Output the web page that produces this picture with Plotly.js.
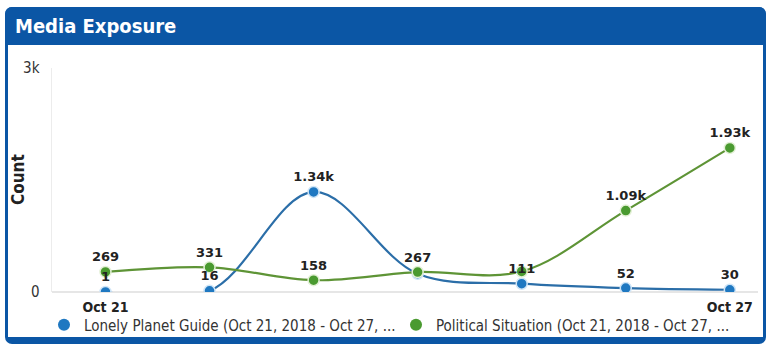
<!DOCTYPE html>
<html>
<head>
<meta charset="utf-8">
<script src="https://cdn.plot.ly/plotly-3.0.1.min.js"></script>
<style>
  html, body { margin: 0; padding: 0; background: #ffffff; }
  #wrap { position: relative; width: 770px; height: 355px; overflow: hidden; background: #ffffff; }
  #frame { position: absolute; left: 5px; top: 7px; width: 755px; height: 327px;
           border: 3px solid #0b56a5; border-bottom-width: 7px; border-radius: 7px; background: #ffffff; }
  #bar { position: absolute; left: 5px; top: 7px; width: 761px; height: 38px; background: #0b56a5;
         border-radius: 7px 7px 0 0; }
  #chart { position: absolute; left: 0; top: 0; width: 770px; height: 355px; }
</style>
</head>
<body>
<div id="wrap">
  <div id="frame"></div>
  <div id="bar"></div>
  <div id="chart"></div>
</div>
<script>
const dates = ['2018-10-21','2018-10-22','2018-10-23','2018-10-24','2018-10-25','2018-10-26','2018-10-27'];
const lonelyPlanet = [1, 16, 1340, 245, 111, 52, 30];
const political = [269, 331, 158, 267, 275, 1090, 1930];
const lonelyShowLabel = [true, true, true, false, true, true, true];
const politicalShowLabel = [true, true, true, true, false, true, true];
const xTickVals = ['2018-10-21', '2018-10-27'];
const xTickText = ['Oct 21', 'Oct 27'];
const yTickVals = [0, 3000];
const yTickText = ['0', '3k'];
const yTitle = 'Count';
const seriesNames = ['Lonely Planet Guide (Oct 21, 2018 - Oct 27, ...', 'Political Situation (Oct 21, 2018 - Oct 27, ...'];
const colors = { blueLine: '#2b6ea8', blueMarker: '#1f78c1', greenLine: '#5e9436', greenMarker: '#4a9a30' };

function fmt(v) { return v >= 1000 ? (v / 1000).toFixed(2) + 'k' : String(v); }

const narrow = '"DejaVu Sans Condensed", "DejaVu Sans", sans-serif';
const labelFont = { family: '"DejaVu Sans", sans-serif', size: 13, color: '#222222', weight: 'bold' };

function lineTrace(y, lineColor, markerColor, halo) {
  return {
    x: dates, y: y, type: 'scatter', mode: 'lines+markers', showlegend: false,
    line: { color: lineColor, width: 2.2, shape: 'spline', smoothing: 1 },
    marker: { color: markerColor, size: 11, line: { color: halo, width: 1.5 } },
    hoverinfo: 'x+y'
  };
}
function textTrace(y, show) {
  return {
    x: dates, y: y, type: 'scatter', mode: 'markers+text', showlegend: false,
    marker: { size: 10, opacity: 0 },
    text: y.map((v, i) => show[i] ? '<b>' + fmt(v) + '</b>' : ''),
    textposition: 'top center', textfont: labelFont, cliponaxis: false, hoverinfo: 'skip'
  };
}
function legendTrace(name, color, legendId) {
  return { x: [null], y: [null], type: 'scatter', mode: 'markers', name: name, legend: legendId,
           marker: { color: color, size: 11 }, showlegend: true };
}

const traces = [
  lineTrace(lonelyPlanet, colors.blueLine, colors.blueMarker, '#cfe5f7'),
  lineTrace(political, colors.greenLine, colors.greenMarker, '#e3f0d6'),
  textTrace(lonelyPlanet, lonelyShowLabel),
  textTrace(political, politicalShowLabel),
  legendTrace(seriesNames[0], colors.blueMarker, 'legend'),
  legendTrace(seriesNames[1], colors.greenMarker, 'legend2')
];

const legendFont = { family: narrow, size: 15, color: '#333333' };
function legendBox(xPx) {
  return {
    orientation: 'h', xref: 'container', yref: 'container',
    x: xPx / 770, xanchor: 'left', y: 1 - 325 / 355, yanchor: 'middle',
    font: legendFont, itemsizing: 'constant', itemwidth: 30, bgcolor: 'rgba(0,0,0,0)'
  };
}

const layout = {
  width: 770, height: 355,
  paper_bgcolor: 'rgba(0,0,0,0)', plot_bgcolor: 'rgba(0,0,0,0)',
  margin: { l: 52, r: 12, t: 68, b: 63 },
  title: {
    text: '<b>Media Exposure</b>',
    font: { family: narrow, size: 20, color: '#ffffff' },
    x: 15 / 770, xanchor: 'left', xref: 'container',
    y: 1 - 26 / 355, yanchor: 'middle', yref: 'container'
  },
  xaxis: {
    type: 'date',
    range: ['2018-10-20 11:40', '2018-10-27 06:30'],
    tickvals: xTickVals, ticktext: xTickText,
    tickfont: { family: narrow, size: 14, color: '#222222', weight: 'bold' },
    showgrid: false, zeroline: false, showline: false, ticks: '',
    ticklabelstandoff: 5, fixedrange: true
  },
  yaxis: {
    range: [0, 3000],
    tickvals: yTickVals, ticktext: yTickText,
    tickfont: { family: narrow, size: 15, color: '#333333' },
    showgrid: false, zeroline: true, zerolinecolor: '#e6e6e6', zerolinewidth: 1.5,
    showline: true, linecolor: '#ececec', linewidth: 1.5, ticks: '',
    ticklabelstandoff: 8,
    fixedrange: true
  },
  annotations: [{
    text: '<b>' + yTitle + '</b>', textangle: -90, showarrow: false,
    xref: 'paper', yref: 'paper', x: (18 - 52) / 706, y: 0.5, xanchor: 'center', yanchor: 'middle',
    font: { family: narrow, size: 17, color: '#222222' }
  }],
  showlegend: true,
  legend: legendBox(44),
  legend2: legendBox(396)
};

Plotly.newPlot('chart', traces, layout, { displayModeBar: false, staticPlot: true });
</script>
</body>
</html>
